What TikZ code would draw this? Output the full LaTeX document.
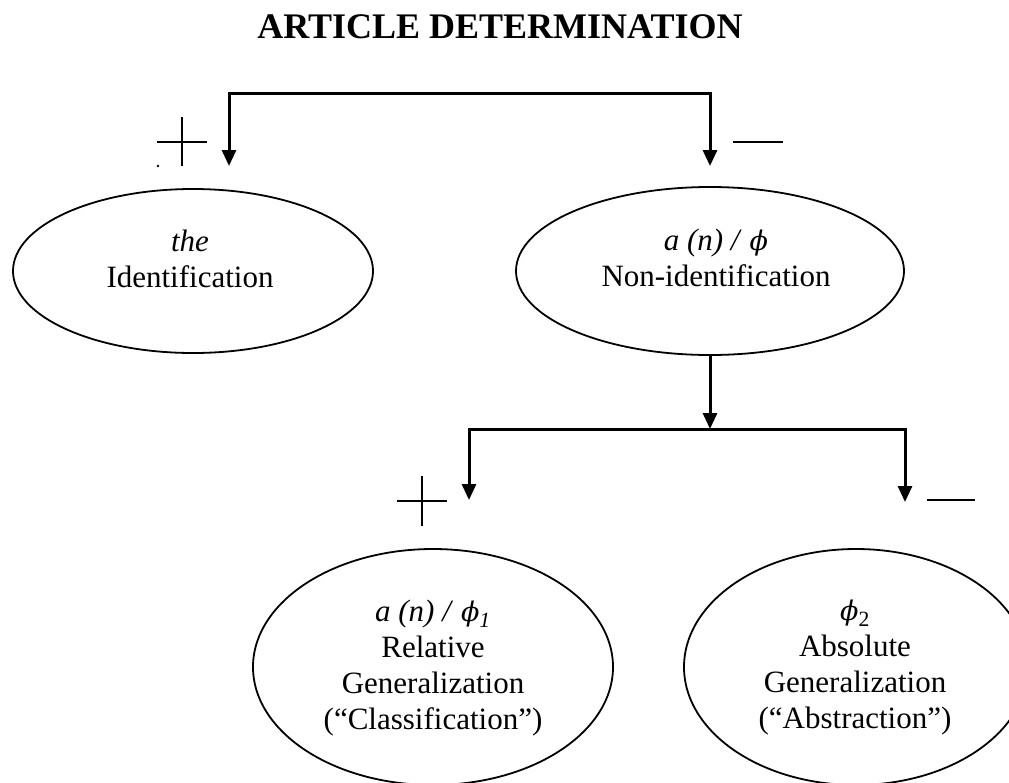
\documentclass[tikz,border=0pt]{standalone}
\usepackage{fontspec}
\setmainfont{Liberation Serif}
\newfontfamily\phifont{DejaVu Serif}
\newcommand{\ph}{{\phifont\itshape\fontsize{27}{36}\selectfont ϕ}}
\usetikzlibrary{arrows.meta,shapes.geometric}

\begin{document}
\begin{tikzpicture}[x=1pt, y=-1pt, line join=miter, >={Triangle[length=16pt,width=14pt]}]

	% Kiểu dùng chung (1 đơn vị = 1 điểm ảnh, trục y hướng xuống)
	\tikzset{
		oval/.style={draw, ellipse, line width=1.8pt, inner sep=0pt},
		txt/.style={align=center, inner sep=0pt, font=\fontsize{31}{36}\selectfont},
		link/.style={line width=3pt},
		sign/.style={line width=2pt}
	}

	\useasboundingbox (0,0) rectangle (1009,782);

	% ----------------------------------------------------
	% TIÊU ĐỀ
	% ----------------------------------------------------
	\node[anchor=base, inner sep=0pt, font=\fontsize{36}{40}\selectfont\bfseries] (title) at (500,38) {ARTICLE DETERMINATION};

	% ----------------------------------------------------
	% CÁC HÌNH ELIP
	% ----------------------------------------------------
	\node[oval, minimum width=360pt, minimum height=164pt] (ident) at (193,271) {};
	\node[oval, minimum width=388pt, minimum height=168pt] (nonident) at (710,271) {};
	\node[oval, minimum width=360pt, minimum height=236pt] (relgen) at (433,667) {};
	\node[oval, minimum width=344pt, minimum height=236pt] (absgen) at (856,667) {};

	% Chữ trong các elip
	\node[txt] (ident-t) at (190,258.5) {\textit{the}\\Identification};
	\node[txt] (nonident-t) at (716,258) {\textit{a (n) /} \ph\\Non-identification};
	\node[txt] (relgen-t) at (433,668.5) {\textit{a (n) /} \ph\textsubscript{\textit{1}}\\Relative\\Generalization\\(“Classification”)};
	\node[txt] (absgen-t) at (855,668) {\ph\textsubscript{2}\\Absolute\\Generalization\\(“Abstraction”)};

	% ----------------------------------------------------
	% NHÁNH TRÊN
	% ----------------------------------------------------
	\coordinate (topL) at (229,93);
	\coordinate (topR) at (710,93);
	\coordinate (tipL) at (229,166);
	\coordinate (tipR) at (710,166);
	\draw[link, <->] (tipL) -- (topL) -- (topR) -- (tipR);

	% ----------------------------------------------------
	% NHÁNH DƯỚI
	% ----------------------------------------------------
	\coordinate (mid) at (710,429);
	\coordinate (midL) at (469,429);
	\coordinate (midR) at (905,429);
	\coordinate (tipLL) at (469,500);
	\coordinate (tipRR) at (905,502);
	\draw[link, ->] (nonident.south) -- (mid);
	\draw[link, <->] (tipLL) -- (midL) -- (midR) -- (tipRR);

	% Dấu cộng / trừ
	\draw[sign] (157,142) -- (207,142) (182,117) -- (182,166);
	\fill (158,166) circle (1.3);
	\draw[sign] (733,142) -- (783,142);
	\draw[sign] (397,501) -- (447,501) (422,476) -- (422,526);
	\draw[sign] (927,500) -- (975,500);

\end{tikzpicture}
\end{document}
